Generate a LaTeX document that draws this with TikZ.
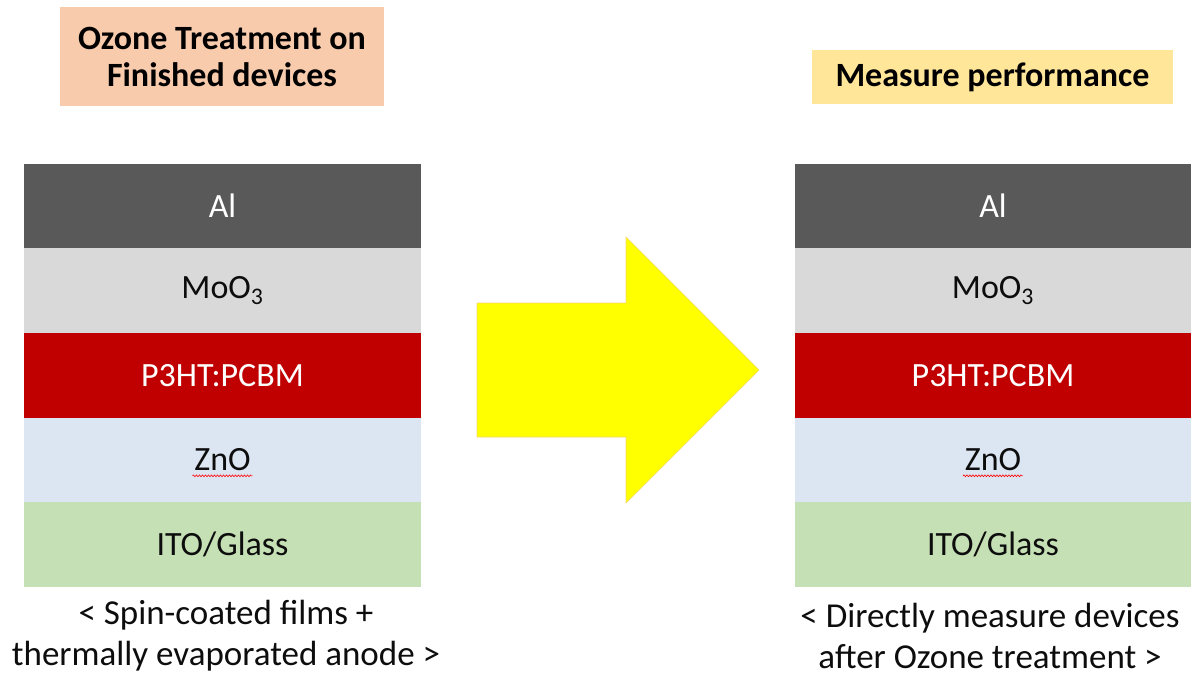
\documentclass[tikz,border=0pt]{standalone}
\usepackage{fontspec}
\setmainfont{Carlito}
\usetikzlibrary{decorations.pathmorphing}
\definecolor{alcol}{HTML}{595959}
\definecolor{moocol}{HTML}{D9D9D9}
\definecolor{p3col}{HTML}{C00000}
\definecolor{znocol}{HTML}{DCE6F2}
\definecolor{itocol}{HTML}{C5E0B4}
\definecolor{peach}{HTML}{F8CBAD}
\definecolor{paleyel}{HTML}{FFE699}
\definecolor{arrowyel}{HTML}{FFFF00}
\definecolor{arrowedge}{HTML}{F5D76E}
\definecolor{txt}{HTML}{0D0D0D}
\tikzset{
  layer/.style={rectangle, inner sep=0pt, outer sep=0pt, minimum height=84.6pt, text=txt,
    font=\fontsize{34}{41}\selectfont},
  titlebox/.style={rectangle, inner sep=0pt, outer sep=0pt, text=black, align=center,
    font=\fontsize{34}{37}\selectfont\bfseries},
  caption/.style={inner sep=0pt, text=txt, align=center, font=\fontsize{35}{41}\selectfont},
  wavy/.style={draw=red, line width=0.6pt, decorate,
    decoration={snake, segment length=3pt, amplitude=0.9pt}},
}
\begin{document}
\begin{tikzpicture}[x=1pt,y=-1pt]
\useasboundingbox (0,0) rectangle (1193,676);
% title boxes
\node[titlebox, fill=peach, minimum width=324pt, minimum height=99pt] (t1) at (222,56.5)
  {Ozone Treatment on\\Finished devices};
\node[titlebox, fill=paleyel, minimum width=361pt, minimum height=54pt] (t2) at (992.5,77.5)
  {Measure performance};
% left stack
\begin{scope}[every node/.append style={minimum width=397pt}]
\node[layer, fill=alcol, text=white] (al1) at (222.5,206) {Al};
\node[layer, fill=moocol] (moo1) at (222.5,290.6) {MoO\textsubscript{3}};
\node[layer, fill=p3col, text=white] (p31) at (222.5,375.2) {P3HT:PCBM};
\node[layer, fill=znocol] (zno1) at (222.5,459.8) {ZnO};
\node[layer, fill=itocol] (ito1) at (222.5,544.4) {ITO/Glass};
\end{scope}
% right stack
\begin{scope}[every node/.append style={minimum width=396pt}]
\node[layer, fill=alcol, text=white] (al2) at (993,206) {Al};
\node[layer, fill=moocol] (moo2) at (993,290.6) {MoO\textsubscript{3}};
\node[layer, fill=p3col, text=white] (p32) at (993,375.2) {P3HT:PCBM};
\node[layer, fill=znocol] (zno2) at (993,459.8) {ZnO};
\node[layer, fill=itocol] (ito2) at (993,544.4) {ITO/Glass};
\end{scope}
% spell-check underline
\draw[wavy] ([xshift=-30pt,yshift=-16pt]zno1.center) -- ([xshift=30pt,yshift=-16pt]zno1.center);
\draw[wavy] ([xshift=-30pt,yshift=-16pt]zno2.center) -- ([xshift=30pt,yshift=-16pt]zno2.center);
% captions
\node[caption] (c1) at (226,636) {< Spin-coated films +\\thermally evaporated anode >};
\node[caption] (c2) at (990,636) {< Directly measure devices\\after Ozone treatment >};
% big arrow
\fill[arrowyel, draw=arrowedge, line width=0.6pt]
  (477,303) -- (626,303) -- (626,237) -- (759,370) -- (626,503) -- (626,437) -- (477,437) -- cycle;
\end{tikzpicture}
\end{document}
